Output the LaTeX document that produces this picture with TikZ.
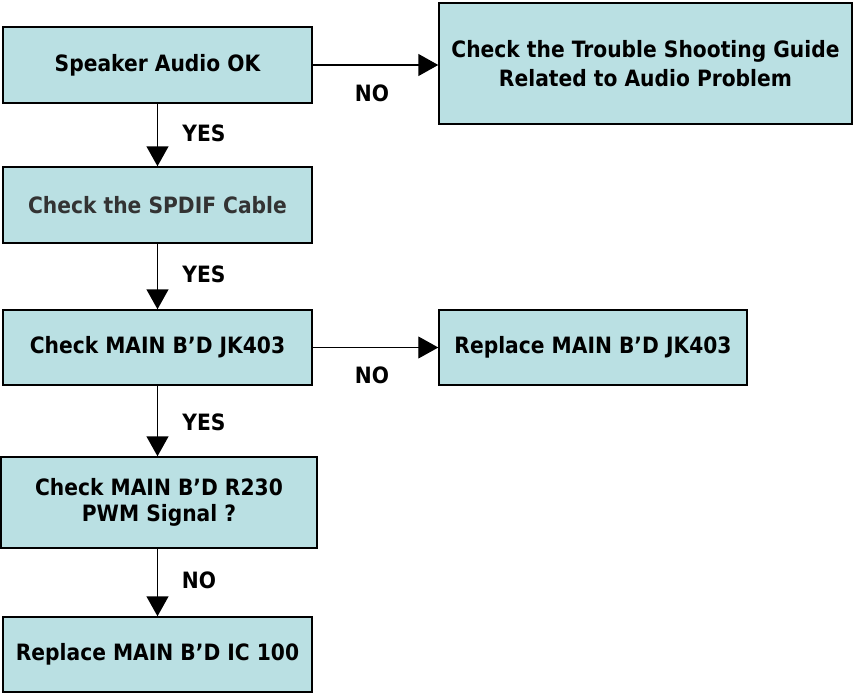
\documentclass[tikz,border=0pt]{standalone}
\usepackage{fontspec}
\setmainfont{DejaVu Sans}[FakeStretch=0.9]
\usetikzlibrary{arrows.meta}
\definecolor{boxfill}{RGB}{186,224,227}
\definecolor{greytext}{RGB}{51,51,51}
\tikzset{
  box/.style={draw=black, line width=1.5pt, fill=boxfill, align=center, inner sep=0pt,
    font=\fontsize{22.5}{25.5}\selectfont\bfseries},
  flow/.style={line width=1.5pt, -{Triangle[width=22pt,length=20pt]}},
  lbl/.style={font=\fontsize{22.5}{26}\selectfont\bfseries}
}
\begin{document}
\begin{tikzpicture}[x=1pt,y=-1pt]
\useasboundingbox (0,0) rectangle (855,693);
\node[box, minimum width=309pt, minimum height=76pt] (b1) at (157.5,65) {Speaker Audio OK};
\node[box, minimum width=413pt, minimum height=121pt, font=\fontsize{22.5}{29}\selectfont\bfseries] (ts) at (645.5,63.5) {Check the Trouble Shooting Guide\\Related to Audio Problem};
\node[box, minimum width=309pt, minimum height=76pt, text=greytext] (b2) at (157.5,205) {Check the SPDIF Cable};
\node[box, minimum width=309pt, minimum height=75pt] (b3) at (157.5,347.5) {Check MAIN B’D JK403};
\node[box, minimum width=308pt, minimum height=75pt] (rj) at (593,347.5) {Replace MAIN B’D JK403};
\node[box, minimum width=316pt, minimum height=91pt] (b4) at (159,502.5) {Check MAIN B’D R230\\PWM Signal ?};
\node[box, minimum width=309pt, minimum height=75pt] (b5) at (157.5,654.5) {Replace MAIN B’D IC 100};

\draw[flow] (b1.east) -- (b1.east -| ts.west);
\draw[flow, line width=1pt] (b3.east) -- (rj.west);
\draw[flow] (b1.south) -- (b2.north);
\draw[flow] (b2.south) -- (b3.north);
\draw[flow] (b3.south) -- (b3.south |- b4.north);
\draw[flow] (b3.south |- b4.south) -- (b3.south |- b5.north);

\node[lbl] (no1) at (372,93) {NO};
\node[lbl] (no2) at (372,375) {NO};
\node[lbl] (y1) at (204,133) {YES};
\node[lbl] (y2) at (204,274) {YES};
\node[lbl] (y3) at (204,422) {YES};
\node[lbl] (no3) at (199,580) {NO};
\end{tikzpicture}
\end{document}
